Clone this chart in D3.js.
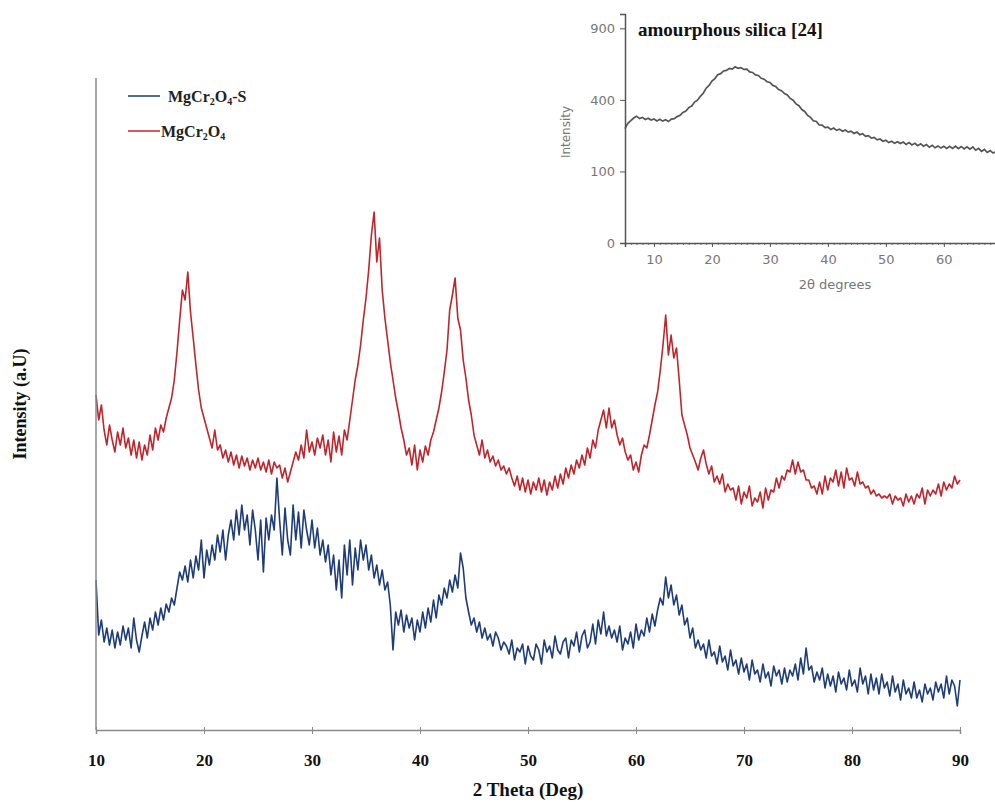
<!DOCTYPE html>
<html>
<head>
<meta charset="utf-8">
<script src="https://cdn.jsdelivr.net/npm/d3@7"></script>
<style>
  body { margin: 0; background: #fff; }
  svg { display: block; }
</style>
</head>
<body>
<svg width="995" height="804"></svg>
<script>
// main pattern: 2 theta from 10 to 90 every 0.25 deg, intensity in a.u.
const thetaStart = 10, thetaStep = 0.25;
const xTicks = [10, 20, 30, 40, 50, 60, 70, 80, 90];

const pureValues = [
  335, 310, 325, 300, 285, 305, 290, 278, 298, 285, 302, 282, 292, 275, 290, 272,
  288, 270, 285, 275, 295, 280, 302, 290, 305, 298, 312, 322, 332, 350, 378, 410,
  440, 430, 458, 418, 392, 365, 340, 322, 312, 302, 292, 282, 300, 280, 285, 272,
  280, 268, 278, 265, 275, 262, 274, 264, 272, 260, 270, 262, 272, 260, 268, 258,
  270, 256, 268, 262, 265, 252, 262, 248, 258, 268, 278, 270, 285, 272, 300, 278,
  288, 275, 292, 282, 295, 275, 290, 268, 298, 278, 294, 275, 300, 290, 310, 330,
  350, 365, 385, 410, 432, 460, 495, 518, 468, 492, 440, 412, 390, 368, 350, 332,
  318, 302, 290, 275, 282, 265, 285, 260, 280, 268, 284, 275, 290, 298, 310, 322,
  338, 358, 380, 420, 435, 452, 412, 400, 370, 352, 330, 315, 295, 285, 275, 290,
  272, 280, 268, 274, 264, 270, 260, 264, 256, 262, 252, 244, 254, 240, 252, 238,
  250, 236, 248, 240, 252, 238, 250, 235, 248, 240, 254, 242, 256, 246, 262, 252,
  265, 256, 270, 262, 275, 265, 282, 272, 290, 282, 300, 310, 320, 302, 322, 302,
  310, 295, 285, 292, 278, 270, 275, 260, 268, 258, 275, 285, 282, 295, 310, 325,
  338, 360, 385, 415, 375, 395, 372, 382, 350, 315, 305, 295, 282, 275, 268, 260,
  272, 280, 266, 256, 264, 248, 254, 246, 256, 238, 246, 240, 242, 230, 244, 226,
  238, 232, 244, 224, 232, 228, 238, 222, 242, 230, 240, 238, 252, 242, 254, 250,
  260, 258, 270, 256, 268, 258, 260, 250, 250, 242, 244, 236, 248, 236, 254, 240,
  252, 248, 260, 244, 258, 242, 262, 250, 252, 244, 258, 246, 248, 242, 244, 236,
  240, 234, 236, 232, 234, 232, 236, 226, 234, 230, 232, 224, 236, 228, 234, 226,
  236, 232, 242, 226, 240, 234, 240, 236, 246, 234, 248, 240, 246, 242, 254, 246,
  250
];

const silicaValues = [
  150, 95, 110, 88, 102, 85, 100, 82, 98, 85, 104, 90, 102, 82, 112, 90,
  78, 94, 108, 92, 112, 100, 118, 105, 122, 110, 126, 118, 132, 125, 142, 158,
  150, 164, 148, 170, 152, 174, 160, 190, 152, 180, 165, 185, 170, 195, 178, 200,
  170, 195, 210, 190, 220, 195, 225, 200, 215, 185, 220, 200, 170, 210, 158, 212,
  190, 215, 200, 252, 210, 175, 222, 190, 175, 225, 190, 218, 182, 220, 200, 185,
  210, 182, 202, 175, 190, 168, 185, 155, 175, 140, 170, 132, 185, 155, 190, 145,
  182, 160, 190, 170, 185, 160, 175, 152, 165, 145, 160, 140, 148, 125, 80, 118,
  105, 120, 98, 115, 102, 112, 90, 110, 98, 118, 102, 122, 108, 130, 112, 135,
  125, 142, 132, 150, 138, 155, 142, 177, 162, 132, 118, 105, 112, 98, 108, 92,
  102, 90, 96, 84, 98, 92, 80, 88, 84, 76, 90, 70, 82, 78, 86, 66,
  84, 74, 70, 86, 80, 66, 90, 78, 84, 72, 94, 80, 76, 88, 92, 72,
  90, 84, 98, 78, 94, 100, 82, 88, 106, 86, 110, 96, 118, 94, 104, 92,
  100, 88, 104, 80, 92, 86, 98, 82, 106, 90, 100, 94, 112, 98, 116, 104,
  120, 132, 125, 153, 132, 145, 125, 135, 115, 125, 105, 112, 92, 102, 82, 90,
  80, 86, 72, 90, 74, 78, 66, 84, 68, 74, 60, 80, 64, 70, 56, 72,
  58, 66, 50, 70, 56, 60, 48, 66, 52, 58, 44, 64, 54, 60, 46, 62,
  48, 60, 54, 66, 50, 72, 56, 82, 60, 64, 48, 58, 50, 62, 42, 56,
  44, 54, 38, 58, 46, 52, 40, 60, 44, 50, 38, 62, 46, 54, 36, 56,
  40, 52, 36, 56, 42, 48, 34, 54, 38, 46, 30, 50, 36, 42, 32, 48,
  32, 40, 28, 46, 36, 42, 30, 48, 38, 46, 32, 54, 36, 50, 44, 24,
  50
];

// inset: amorphous silica reference pattern, 2 theta 5..69 every 0.5 deg
const insetStart = 5, insetStep = 0.5;
const insetXTicks = [10, 20, 30, 40, 50, 60];
const insetYTicks = [0, 100, 400, 900];
const insetValues = [
  255, 280, 292, 305, 314, 302, 308, 298, 304, 295, 300, 291, 299, 290, 297, 288,
  300, 302, 312, 318, 333, 340, 358, 366, 388, 398, 420, 438, 468, 485, 512, 528,
  553, 560, 578, 582, 595, 590, 606, 596, 601, 588, 590, 572, 568, 552, 548, 530,
  524, 508, 503, 485, 478, 460, 453, 436, 428, 408, 398, 378, 368, 348, 338, 318,
  308, 292, 288, 272, 271, 260, 262, 252, 258, 248, 253, 244, 249, 240, 244, 234,
  240, 229, 233, 222, 225, 215, 218, 208, 211, 202, 206, 197, 202, 194, 200, 193,
  199, 190, 197, 188, 194, 185, 192, 183, 189, 179, 186, 177, 184, 176, 183, 175,
  183, 175, 183, 174, 182, 173, 181, 172, 180, 168, 175, 164, 171, 160, 167, 158,
  163
];

const seriesNames = ['MgCr2O4-S', 'MgCr2O4'];
const seriesColors = ['#1d3c78', '#c0252c'];

const serif = '"Liberation Serif", "Times New Roman", serif';
const sans = '"DejaVu Sans", "Open Sans", sans-serif';

const svg = d3.select('svg');

// ---------- main chart ----------
const x = d3.scaleLinear([10, 90], [96, 960]);
const y = d3.scaleLinear([0, 652], [730, 78]);

const toPoints = (vals, start, step) => vals.map((v, i) => ({ t: start + i * step, v }));
const pure = toPoints(pureValues, thetaStart, thetaStep);
const silica = toPoints(silicaValues, thetaStart, thetaStep);

const line = d3.line()
  .x((d) => x(d.t))
  .y((d) => y(d.v));

svg.append('path')
  .datum(silica)
  .attr('d', line)
  .attr('fill', 'none')
  .attr('stroke', seriesColors[0])
  .attr('stroke-width', 1.6)
  .attr('stroke-linejoin', 'round');

svg.append('path')
  .datum(pure)
  .attr('d', line)
  .attr('fill', 'none')
  .attr('stroke', seriesColors[1])
  .attr('stroke-width', 1.6)
  .attr('stroke-linejoin', 'round');

// y axis line, no ticks
svg.append('line')
  .attr('x1', x(10)).attr('x2', x(10))
  .attr('y1', y(652)).attr('y2', y(0))
  .attr('stroke', '#8a8a8a')
  .attr('stroke-width', 1.5);

const xAxis = d3.axisBottom(x)
  .tickValues(xTicks)
  .tickSize(4)
  .tickPadding(20);

const gx = svg.append('g')
  .attr('transform', `translate(0, ${y(0)})`)
  .call(xAxis);
gx.select('.domain').attr('stroke', '#8a8a8a').attr('stroke-width', 1.5);
gx.selectAll('.tick line').attr('stroke', '#8a8a8a').attr('y1', -3).attr('y2', 4);
gx.selectAll('text')
  .style('font-family', serif)
  .style('font-weight', 'bold')
  .style('font-size', '17px')
  .attr('fill', '#111');

svg.append('text')
  .text('2 Theta (Deg)')
  .attr('x', 528)
  .attr('y', 796)
  .attr('text-anchor', 'middle')
  .style('font-family', serif)
  .style('font-weight', 'bold')
  .style('font-size', '19px')
  .attr('fill', '#111');

svg.append('text')
  .text('Intensity (a.U)')
  .attr('transform', 'translate(26, 404) rotate(-90)')
  .attr('text-anchor', 'middle')
  .style('font-family', serif)
  .style('font-weight', 'bold')
  .style('font-size', '18px')
  .attr('fill', '#111');

// legend, digits drawn as subscripts
const legend = svg.append('g');
const legendRows = [
  { name: seriesNames[0], color: seriesColors[0], y: 96, tx: 168 },
  { name: seriesNames[1], color: seriesColors[1], y: 131, tx: 161 },
];
legendRows.forEach((r) => {
  legend.append('line')
    .attr('x1', 128).attr('x2', 160)
    .attr('y1', r.y).attr('y2', r.y)
    .attr('stroke', r.color)
    .attr('stroke-width', 1.5);
  const t = legend.append('text')
    .attr('x', r.tx)
    .attr('y', r.y + 6)
    .style('font-family', serif)
    .style('font-weight', 'bold')
    .style('font-size', '16px')
    .attr('fill', '#222');
  r.name.split(/(\d)/).filter((s) => s.length).forEach((s) => {
    const isSub = /\d/.test(s);
    t.append('tspan')
      .text(s)
      .attr('baseline-shift', isSub ? '-3' : null)
      .style('font-size', isSub ? '10px' : null);
  });
});

// ---------- inset ----------
const ix = d3.scaleLinear([5, 69], [625, 996]);
const iy = d3.scaleSqrt([0, 1024], [243, 14]);
const inset = svg.append('g');
const insetPts = toPoints(insetValues, insetStart, insetStep);

inset.append('path')
  .datum(insetPts)
  .attr('d', d3.line().x((d) => ix(d.t)).y((d) => iy(d.v)))
  .attr('fill', 'none')
  .attr('stroke', '#555')
  .attr('stroke-width', 1.7);

// minor ticks give the axis its dotted look
const igx = inset.append('g')
  .attr('transform', `translate(0, ${iy(0)})`)
  .call(d3.axisBottom(ix).tickValues(d3.range(6, 70, 1)).tickSize(2).tickFormat(''));
igx.select('.domain').remove();
igx.selectAll('.tick line').attr('stroke', '#777');

const igx2 = inset.append('g')
  .attr('transform', `translate(0, ${iy(0)})`)
  .call(d3.axisBottom(ix).tickValues(insetXTicks).tickSize(4).tickPadding(8));
igx2.select('.domain').attr('stroke', '#555').attr('stroke-width', 1.5);
igx2.selectAll('.tick line').attr('stroke', '#555');
igx2.selectAll('text')
  .style('font-family', sans)
  .style('font-size', '13px')
  .attr('fill', '#777');

const igy = inset.append('g')
  .attr('transform', `translate(${ix(5)}, 0)`)
  .call(d3.axisLeft(iy).tickValues(insetYTicks).tickSize(5).tickPadding(5));
igy.select('.domain').attr('stroke', '#555').attr('stroke-width', 1.5);
igy.selectAll('.tick line').attr('stroke', '#555');
igy.selectAll('text')
  .style('font-family', sans)
  .style('font-size', '13px')
  .attr('fill', '#777');

inset.append('text')
  .text('Intensity')
  .attr('transform', 'translate(570, 132) rotate(-90)')
  .attr('text-anchor', 'middle')
  .style('font-family', sans)
  .style('font-size', '12px')
  .attr('fill', '#777');

inset.append('text')
  .attr('x', 835)
  .attr('y', 289)
  .attr('text-anchor', 'middle')
  .style('font-family', sans)
  .style('font-size', '13px')
  .attr('fill', '#777')
  .text('2θ degrees');

inset.append('text')
  .text('amourphous silica [24]')
  .attr('x', 638)
  .attr('y', 36)
  .style('font-family', serif)
  .style('font-weight', 'bold')
  .style('font-size', '19px')
  .attr('fill', '#111');
</script>
</body>
</html>
